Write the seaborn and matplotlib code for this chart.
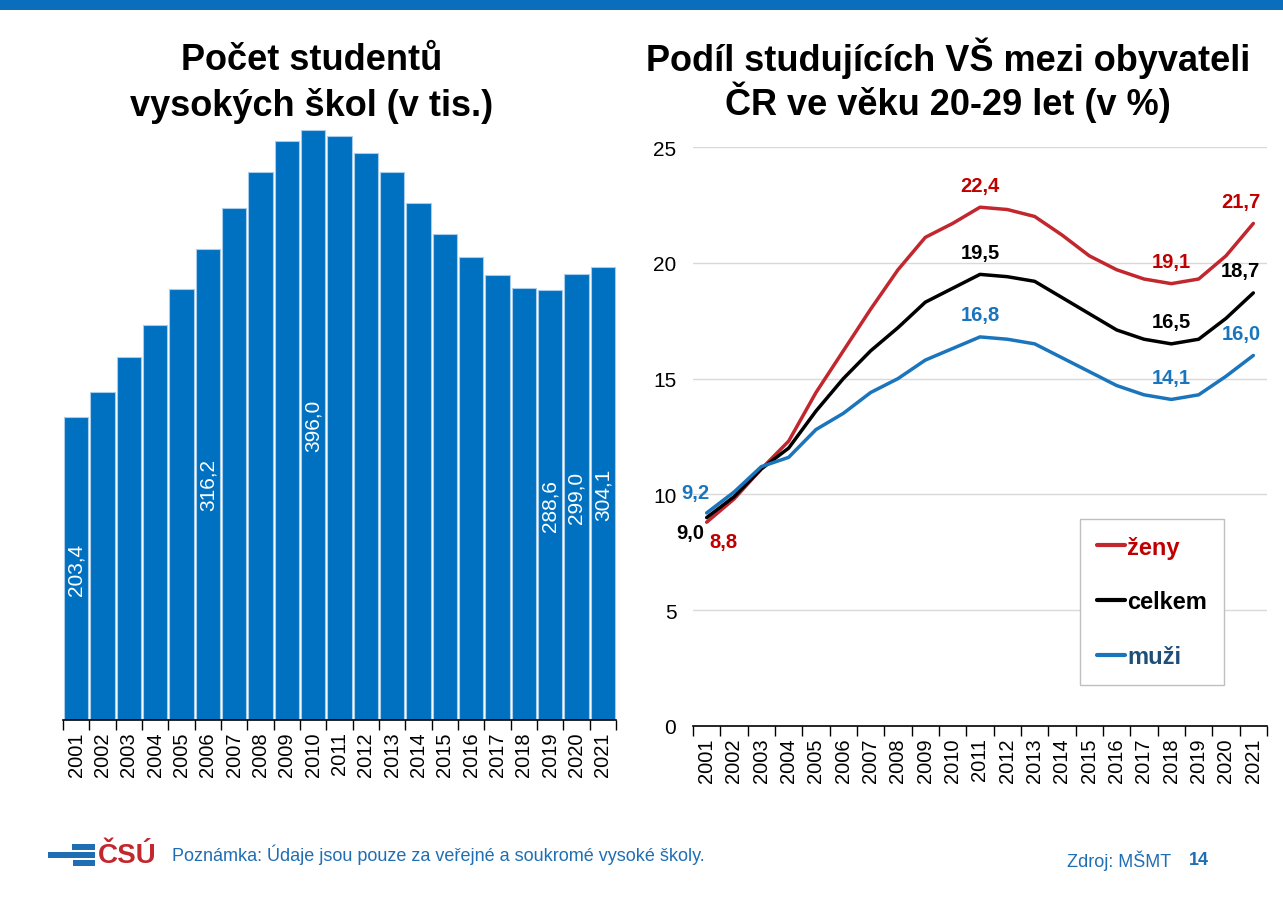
import matplotlib
matplotlib.use("Agg")
import matplotlib.pyplot as plt
import matplotlib.patches as mpatches
from matplotlib.lines import Line2D
import numpy as np
import pandas as pd
import seaborn as sns

years = list(range(2001, 2022))
year_labels = [str(y) for y in years]

# Počet studentů VŠ (v tis.)
students = [203.4, 220.2, 243.6, 265.0, 289.3, 316.2, 343.8, 368.0, 388.8, 396.0, 392.1,
            380.8, 367.9, 347.1, 326.3, 310.9, 298.7, 290.0, 288.6, 299.0, 304.1]
labelled_years = [2001, 2006, 2010, 2019, 2020, 2021]

# Podíl studujících VŠ ve věku 20-29 let (v %)
zeny = [8.8, 9.8, 11.1, 12.3, 14.4, 16.2, 18.0, 19.7, 21.1, 21.7, 22.4,
        22.3, 22.0, 21.2, 20.3, 19.7, 19.3, 19.1, 19.3, 20.3, 21.7]
celkem = [9.0, 9.9, 11.1, 12.0, 13.6, 15.0, 16.2, 17.2, 18.3, 18.9, 19.5,
          19.4, 19.2, 18.5, 17.8, 17.1, 16.7, 16.5, 16.7, 17.6, 18.7]
muzi = [9.2, 10.1, 11.2, 11.6, 12.8, 13.5, 14.4, 15.0, 15.8, 16.3, 16.8,
        16.7, 16.5, 15.9, 15.3, 14.7, 14.3, 14.1, 14.3, 15.1, 16.0]
series_names = ["ženy", "celkem", "muži"]

W, H = 1283, 904
BLUE_BAR = "#0070C0"
RED = "#C1272D"
RED_TXT = "#C00000"
BLACK = "#000000"
BLUE = "#1A75BC"
BLUE_LEG = "#1F4E79"
NOTE_BLUE = "#1F6EB4"

sns.set_theme(style="white")
plt.rcParams["font.family"] = ["Liberation Sans", "DejaVu Sans"]


def px_box(left, top, right, bottom):
    return [left / W, 1 - bottom / H, (right - left) / W, (bottom - top) / H]


def fmt(v):
    return f"{v:.1f}".replace(".", ",")


fig = plt.figure(figsize=(W / 100, H / 100), dpi=100)
fig.patch.set_facecolor("white")

# top band
fig.add_artist(mpatches.Rectangle((0, 1 - 11 / H), 1, 11 / H, transform=fig.transFigure,
                                  color="#0A6EBD", lw=0))

# ---- left: bars ----
ax1 = fig.add_axes(px_box(63, 125, 616, 721))
bar_df = pd.DataFrame({"rok": year_labels, "studenti": students})
sns.barplot(data=bar_df, x="rok", y="studenti", ax=ax1, color=BLUE_BAR, saturation=1,
            width=0.93, edgecolor="#A9CCEB", linewidth=0.8)
ax1.set_xlim(-0.5, 20.5)
ax1.set_ylim(0, 400)
ax1.set_xlabel("")
ax1.set_ylabel("")
ax1.set_yticks([])
for side in ["left", "right", "top"]:
    ax1.spines[side].set_visible(False)
ax1.spines["bottom"].set_color("black")
ax1.spines["bottom"].set_linewidth(1.2)
ax1.set_xticks(range(len(years)))
ax1.set_xticklabels(year_labels, rotation=90, fontsize=14.5)
ax1.set_xticks(np.arange(-0.5, 21, 1), minor=True)
ax1.tick_params(axis="x", which="major", length=0, pad=8, colors="black")
ax1.tick_params(axis="x", which="minor", length=7, width=1, color="black", direction="out", bottom=True)
for i, (y, v) in enumerate(zip(years, students)):
    if y in labelled_years:
        ax1.text(i, v / 2, fmt(v), rotation=90, ha="center", va="center", color="white", fontsize=15)

fig.text(312 / W, 1 - 70 / H, "Počet studentů", ha="center", va="baseline",
         fontsize=26, fontweight="bold", color="black")
fig.text(312 / W, 1 - 116 / H, "vysokých škol (v tis.)", ha="center", va="baseline",
         fontsize=26, fontweight="bold", color="black")

# ---- right: lines ----
ax2 = fig.add_axes(px_box(693, 148, 1267, 727))
line_df = pd.DataFrame({"rok": years * 3,
                        "podil": zeny + celkem + muzi,
                        "skupina": [n for n in series_names for _ in years]})
palette = {"ženy": RED, "celkem": BLACK, "muži": BLUE}
sns.lineplot(data=line_df, x="rok", y="podil", hue="skupina", palette=palette,
             hue_order=series_names, ax=ax2, linewidth=2.5, legend=False)
ax2.set_xlim(2000.5, 2021.5)
ax2.set_ylim(0, 25)
ax2.set_xlabel("")
ax2.set_ylabel("")
ax2.set_yticks([0, 5, 10, 15, 20, 25])
ax2.yaxis.grid(True, color="#D9D9D9", linewidth=1)
ax2.set_axisbelow(True)
ax2.tick_params(axis="y", length=0, labelsize=15, pad=12, colors="black")
for side in ["left", "right", "top"]:
    ax2.spines[side].set_visible(False)
ax2.spines["bottom"].set_color("black")
ax2.spines["bottom"].set_linewidth(1.2)
ax2.set_xticks(years)
ax2.set_xticklabels(year_labels, rotation=90, fontsize=14.5)
ax2.set_xticks(np.arange(2000.5, 2022, 1), minor=True)
ax2.tick_params(axis="x", which="major", length=0, pad=8, colors="black")
ax2.tick_params(axis="x", which="minor", length=7, width=1, color="black", direction="out", bottom=True)

txt_colors = {"ženy": RED_TXT, "celkem": BLACK, "muži": BLUE}
values = {"ženy": zeny, "celkem": celkem, "muži": muzi}
for name in series_names:
    vals = values[name]
    for y in (2011, 2018):
        v = vals[years.index(y)]
        ax2.annotate(fmt(v), (y, v), xytext=(0, 9), textcoords="offset points",
                     ha="center", va="bottom", fontsize=14.5, fontweight="bold", color=txt_colors[name])
    v = vals[-1]
    ax2.annotate(fmt(v), (2021, v), xytext=(-9, 9), textcoords="offset points",
                 ha="center", va="bottom", fontsize=14.5, fontweight="bold", color=txt_colors[name])

start_offsets = {"muži": (-8, 8, "bottom"), "celkem": (-12, -4, "top"), "ženy": (12, -7, "top")}
for name in series_names:
    dx, dy, va = start_offsets[name]
    v = values[name][0]
    ax2.annotate(fmt(v), (2001, v), xytext=(dx, dy), textcoords="offset points",
                 ha="center", va=va, fontsize=14.5, fontweight="bold", color=txt_colors[name])

handles = [Line2D([0], [0], color=palette[n], lw=3) for n in series_names]
leg = ax2.legend(handles, series_names, loc="upper left",
                 bbox_to_anchor=(1080 / W, 1 - 520 / H), bbox_transform=fig.transFigure,
                 frameon=True, fancybox=False, framealpha=1, edgecolor="#BFBFBF",
                 prop={"size": 17, "weight": "bold"}, handlelength=1.2, handletextpad=0.1,
                 labelspacing=1.35, borderpad=0.7, borderaxespad=0)
leg.get_frame().set_linewidth(1)
for t, c in zip(leg.get_texts(), [RED_TXT, BLACK, BLUE_LEG]):
    t.set_color(c)

fig.text(948 / W, 1 - 71 / H, "Podíl studujících VŠ mezi obyvateli", ha="center", va="baseline",
         fontsize=26, fontweight="bold", color="black")
fig.text(948 / W, 1 - 115 / H, "ČR ve věku 20-29 let (v %)", ha="center", va="baseline",
         fontsize=26, fontweight="bold", color="black")

# ---- footer ----
for x0, x1, y0, y1 in [(72, 95, 845, 851), (48, 95, 853, 859), (73, 95, 861, 867)]:
    fig.add_artist(mpatches.Rectangle((x0 / W, 1 - y1 / H), (x1 - x0) / W, (y1 - y0) / H,
                                      transform=fig.transFigure, color=NOTE_BLUE, lw=0))
fig.text(98 / W, 1 - 856 / H, "ČSÚ", ha="left", va="center", fontsize=20,
         fontweight="bold", color="#C1272D")
fig.text(172 / W, 1 - 855 / H, "Poznámka: Údaje jsou pouze za veřejné a soukromé vysoké školy.",
         ha="left", va="center", fontsize=13, color=NOTE_BLUE)
fig.text(1067 / W, 1 - 861 / H, "Zdroj: MŠMT", ha="left", va="center", fontsize=13, color=NOTE_BLUE)
fig.text(1189 / W, 1 - 861 / H, "14", ha="left", va="center", fontsize=13,
         fontweight="bold", color=NOTE_BLUE)

fig.savefig("out.png", dpi=100)
